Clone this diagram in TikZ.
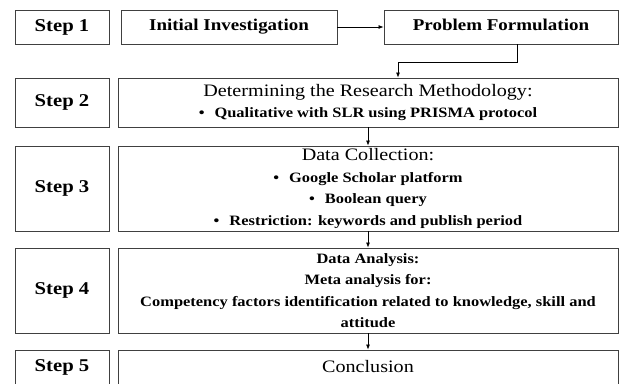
\documentclass[tikz,border=0pt]{standalone}
\usepackage{fontspec}
\setmainfont{Liberation Serif}[FakeStretch=1.15]
\usetikzlibrary{arrows.meta, positioning}

\newcommand{\headtxt}{\fontsize{17.5}{21.5}\selectfont\mdseries}
\newcommand{\itemtxt}{\fontsize{14.3}{21.5}\selectfont\bfseries}

\begin{document}
\begin{tikzpicture}[
    x=1pt, y=-1pt,
    stepbox/.style={rectangle, draw=black!75, line width=0.9pt, inner sep=0pt,
                    minimum width=94pt, font=\fontsize{18}{21}\selectfont\bfseries},
    taskbox/.style={rectangle, draw=black!75, line width=0.9pt, inner sep=0pt,
                    align=center, font=\itemtxt},
    toptask/.style={taskbox, minimum height=34pt, text height=11pt, text depth=4pt,
                    font=\fontsize{16.5}{21}\selectfont\bfseries},
    flow/.style={-{Latex[length=5pt, width=4pt]}, line width=0.7pt}
]
\useasboundingbox (0,0) rectangle (620,383);

% Steps
\node[stepbox, minimum height=34pt] (s1) at (62,27) {Step 1};
\node[stepbox, minimum height=49pt] (s2) at (62,102.5) {Step 2};
\node[stepbox, minimum height=85pt] (s3) at (62,188.5) {Step 3};
\node[stepbox, minimum height=85pt] (s4) at (62,290.5) {Step 4};
\node[stepbox, minimum height=34pt] (s5) at (62,367) {Step 5};

% Tasks
\node[toptask, minimum width=216pt] (inv) at (229,27) {Initial Investigation};
\node[toptask, minimum width=234pt] (prob) at (501,27) {Problem Formulation};
\node[taskbox, minimum width=500pt, minimum height=49pt] (meth) at (368,102.5)
    {\headtxt Determining the Research Methodology:\\
     \textbullet\hspace{10pt}Qualitative with SLR using PRISMA protocol};
\node[taskbox, minimum width=500pt, minimum height=85pt] (coll) at (368,188.5)
    {\headtxt Data Collection:\\
     \textbullet\hspace{10pt}Google Scholar platform\\
     \textbullet\hspace{10pt}Boolean query\\
     \textbullet\hspace{10pt}Restriction: keywords and publish period};
\node[taskbox, minimum width=500pt, minimum height=85pt] (anal) at (368,290.5)
    {Data Analysis:\\
     Meta analysis for:\\
     Competency factors identification related to knowledge, skill and\\
     attitude};
\node[taskbox, minimum width=500pt, minimum height=34pt] (conc) at (368,367)
    {\headtxt Conclusion};

% Flow
\draw[flow] (inv) -- (prob);
\draw[flow] ([xshift=16pt]prob.south) -- ++(0,18) -| ([xshift=30pt]meth.north);
\draw[flow] (meth) -- (coll);
\draw[flow] (coll) -- (anal);
\draw[flow] (anal) -- (conc);
\end{tikzpicture}
\end{document}
